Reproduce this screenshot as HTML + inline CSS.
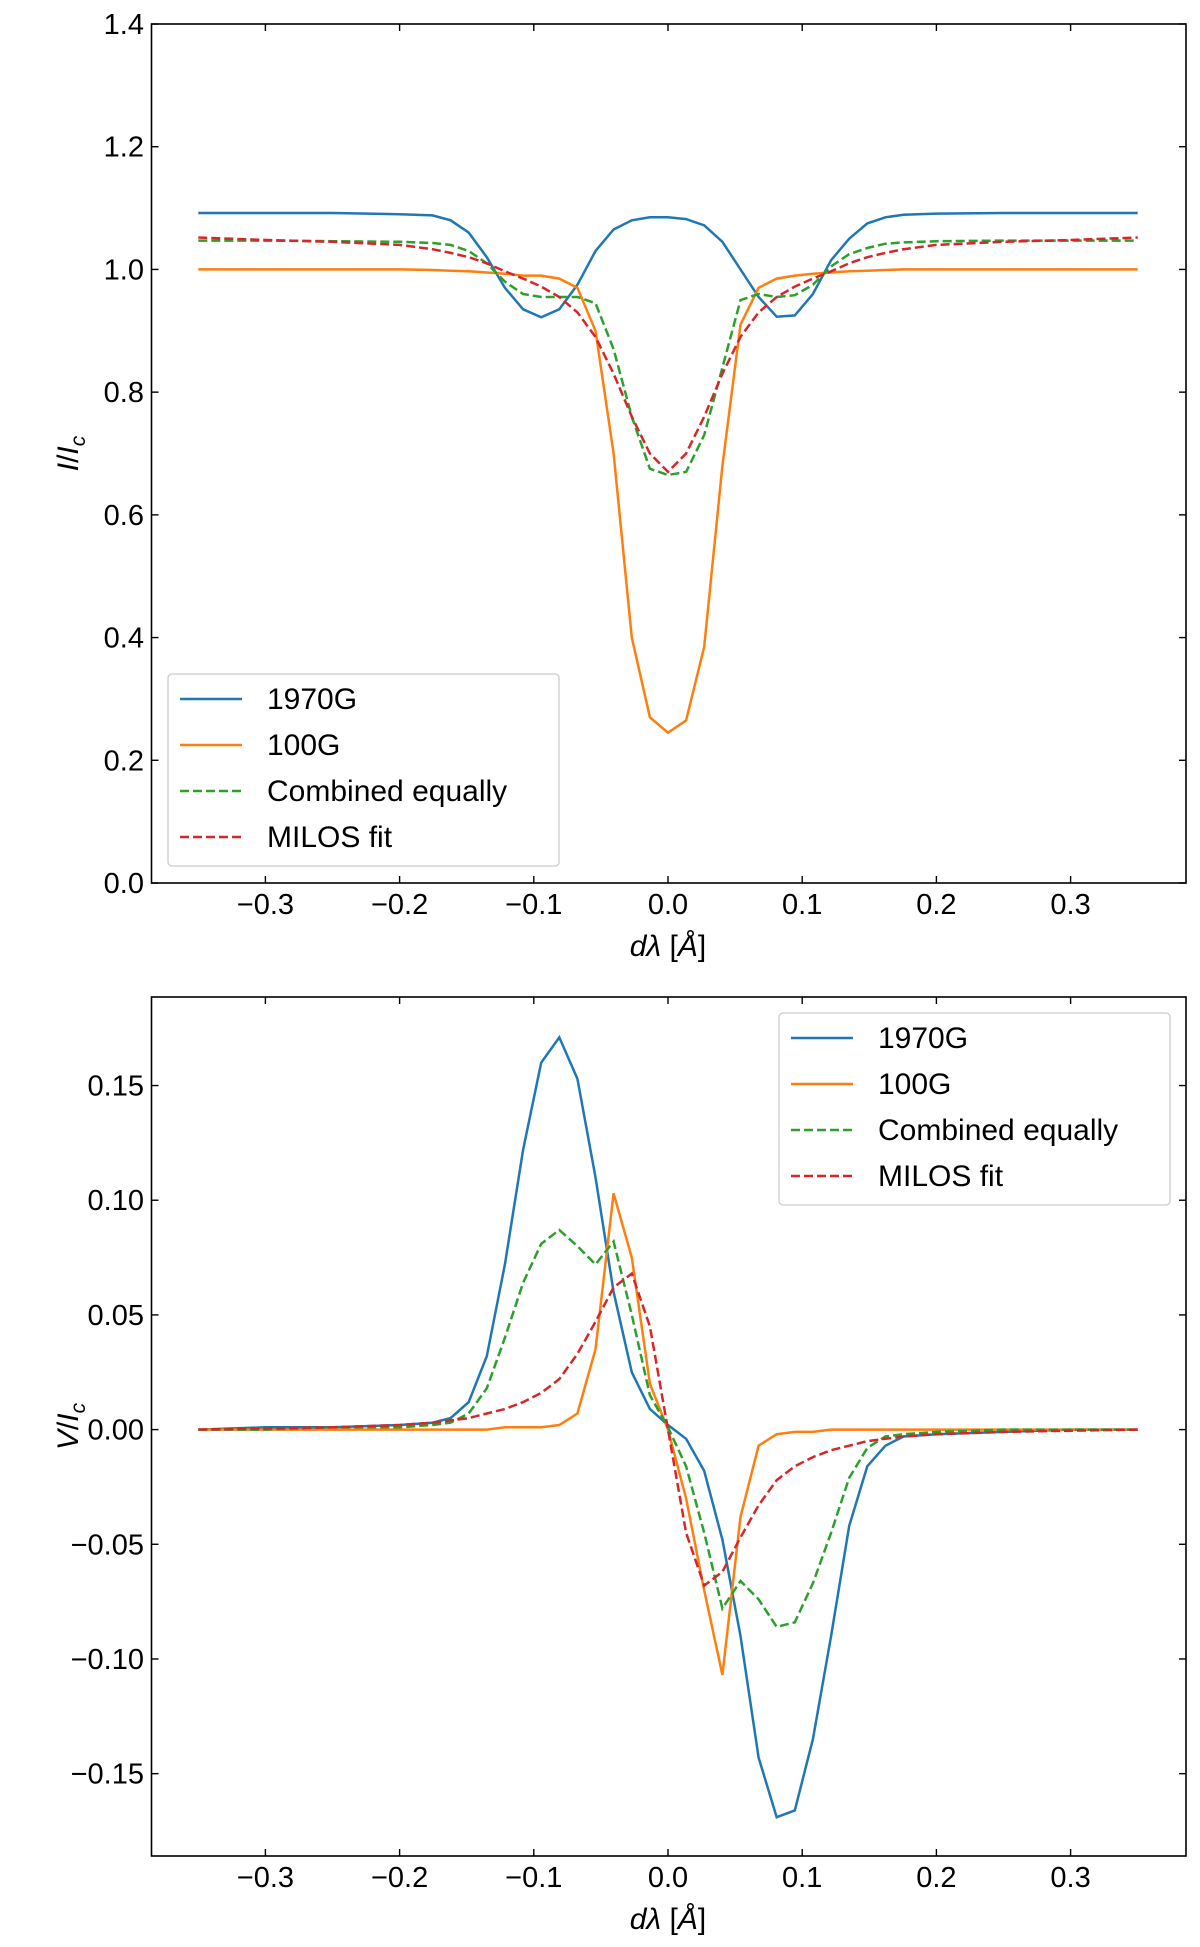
<!DOCTYPE html>
<html><head><meta charset="utf-8"><style>
body{margin:0;background:#fff}
svg{display:block;font-family:"Liberation Sans","DejaVu Sans",sans-serif}
</style></head><body>
<svg id="c" width="1200" height="1947" viewBox="0 0 1200 1947"></svg>
<script>
const xs=[-0.35,-0.3,-0.25,-0.2,-0.1755,-0.162,-0.1485,-0.135,-0.1215,-0.108,-0.0945,-0.081,-0.0675,-0.054,-0.0405,-0.027,-0.0135,0,0.0135,0.027,0.0405,0.054,0.0675,0.081,0.0945,0.108,0.1215,0.135,0.1485,0.162,0.1755,0.2,0.25,0.3,0.35];
const iBlue=[1.092,1.092,1.092,1.09,1.088,1.08,1.06,1.02,0.97,0.935,0.922,0.935,0.975,1.03,1.065,1.08,1.085,1.085,1.082,1.072,1.045,1.0,0.955,0.923,0.925,0.96,1.015,1.05,1.075,1.085,1.089,1.091,1.092,1.092,1.092];
const iOrange=[1.0,1.0,1.0,1.0,0.999,0.998,0.997,0.995,0.993,0.99,0.99,0.985,0.97,0.9,0.70,0.40,0.27,0.245,0.265,0.385,0.68,0.91,0.97,0.985,0.99,0.993,0.995,0.997,0.998,0.999,1.0,1.0,1.0,1.0,1.0];
const iGreen=[1.047,1.047,1.046,1.045,1.043,1.04,1.03,1.01,0.98,0.96,0.955,0.955,0.955,0.945,0.87,0.76,0.675,0.665,0.67,0.73,0.84,0.95,0.96,0.955,0.958,0.975,1.005,1.025,1.035,1.042,1.044,1.046,1.047,1.047,1.047];
const iRed=[1.052,1.048,1.045,1.04,1.033,1.027,1.02,1.01,0.997,0.985,0.972,0.955,0.93,0.89,0.83,0.76,0.70,0.67,0.70,0.76,0.83,0.89,0.93,0.955,0.972,0.985,0.997,1.01,1.02,1.027,1.033,1.04,1.045,1.048,1.052];
const vBlue=[0,0.001,0.001,0.002,0.003,0.005,0.012,0.032,0.072,0.122,0.16,0.171,0.153,0.11,0.06,0.025,0.009,0.002,-0.004,-0.018,-0.048,-0.09,-0.143,-0.169,-0.166,-0.135,-0.09,-0.042,-0.016,-0.007,-0.003,-0.002,-0.001,0,0];
const vOrange=[0,0,0,0,0,0,0,0,0.001,0.001,0.001,0.002,0.007,0.035,0.103,0.075,0.02,0,-0.03,-0.07,-0.107,-0.038,-0.007,-0.002,-0.001,-0.001,0,0,0,0,0,0,0,0,0];
const vGreen=[0,0,0.001,0.001,0.002,0.003,0.007,0.018,0.04,0.064,0.081,0.087,0.08,0.072,0.082,0.05,0.015,0.001,-0.016,-0.045,-0.078,-0.066,-0.074,-0.086,-0.084,-0.067,-0.045,-0.021,-0.008,-0.003,-0.002,-0.001,0,0,0];
const vRed=[0,0.0005,0.001,0.002,0.003,0.004,0.005,0.007,0.009,0.012,0.016,0.022,0.033,0.047,0.062,0.068,0.045,0,-0.045,-0.068,-0.062,-0.047,-0.033,-0.022,-0.016,-0.012,-0.009,-0.007,-0.005,-0.004,-0.003,-0.002,-0.001,-0.0005,0];
const xTicks=[-0.3,-0.2,-0.1,0,0.1,0.2,0.3];
const xTickLabels=["\u22120.3","\u22120.2","\u22120.1","0.0","0.1","0.2","0.3"];
const iTicks=[0,0.2,0.4,0.6,0.8,1.0,1.2,1.4];
const iTickLabels=["0.0","0.2","0.4","0.6","0.8","1.0","1.2","1.4"];
const vTicks=[-0.15,-0.1,-0.05,0,0.05,0.1,0.15];
const vTickLabels=["\u22120.15","\u22120.10","\u22120.05","0.00","0.05","0.10","0.15"];
const names=["1970G","100G","Combined equally","MILOS fit"];
const cols=["#1f77b4","#ff7f0e","#2ca02c","#d62728"];
const dashed=[false,false,true,true];

const svg=document.getElementById('c');
const NS='http://www.w3.org/2000/svg';
function mk(tag,attrs,parent){const e=document.createElementNS(NS,tag);for(const k in attrs)e.setAttribute(k,attrs[k]);(parent||svg).appendChild(e);return e;}
const L=151.5,R=1186;
const xs2px=x=>668+(x)*1342;

function panel(name,top,bot,ymin,ymax,series,yt,ytl,ylab,leg){
  const g=mk('g',{});
  
  
  const yp=v=>bot-(v-ymin)/(ymax-ymin)*(bot-top);
  series.forEach((s,i)=>{
    const d=xs.map((x,j)=>(j?'L':'M')+xs2px(x).toFixed(1)+','+yp(s[j]).toFixed(1)).join(' ');
    const p=mk('path',{d:d,fill:'none',stroke:cols[i],'stroke-width':2.5,'stroke-dasharray':dashed[i]?'9,4':'none'},g);
    
    
  });
  const fr=mk('rect',{x:L,y:top,width:R-L,height:bot-top,fill:'none',stroke:'#000','stroke-width':1.6},g);
  
  
  xTicks.forEach((t,i)=>{
    const x=xs2px(t);
    mk('line',{x1:x,x2:x,y1:bot,y2:bot-7,stroke:'#000','stroke-width':1.4},g);
    mk('line',{x1:x,x2:x,y1:top,y2:top+7,stroke:'#000','stroke-width':1.4},g);
    const tx=mk('text',{x:x,y:bot+31,'font-size':29,'text-anchor':'middle'},g);
    tx.textContent=xTickLabels[i];
    
    
  });
  yt.forEach((t,i)=>{
    const y=yp(t);
    mk('line',{x1:L,x2:L+7,y1:y,y2:y,stroke:'#000','stroke-width':1.4},g);
    mk('line',{x1:R,x2:R-7,y1:y,y2:y,stroke:'#000','stroke-width':1.4},g);
    const tx=mk('text',{x:144,y:y+10,'font-size':29,'text-anchor':'end'},g);
    tx.textContent=ytl[i];
    
    
  });
  const xl=mk('text',{x:668,y:bot+73,'font-size':30,'text-anchor':'middle'},g);
  xl.innerHTML='<tspan font-style="italic">d\u03bb</tspan> [<tspan font-style="italic">\u00c5</tspan>]';
  
  
  const yc=(top+bot)/2;
  const yl=mk('text',{x:0,y:0,'font-size':30,'text-anchor':'middle',transform:'translate(78,'+yc+') rotate(-90)'},g);
  yl.innerHTML='<tspan font-style="italic">'+ylab+'</tspan>/<tspan font-style="italic">I</tspan><tspan font-style="italic" font-size="21" dy="7">c</tspan>';
  
  
  const lg=mk('g',{},g);
  
  
  mk('rect',{x:leg.x,y:leg.y,width:leg.w,height:leg.h,rx:4,fill:'#fff','fill-opacity':0.8,stroke:'#ccc','stroke-width':1.3},lg);
  names.forEach((n,i)=>{
    const y=leg.y+25+i*46;
    mk('line',{x1:leg.x+12,x2:leg.x+74,y1:y,y2:y,stroke:cols[i],'stroke-width':2.5,'stroke-dasharray':dashed[i]?'9,4':'none'},lg);
    const t=mk('text',{x:leg.x+99,y:y+10,'font-size':30},lg);
    t.textContent=n;
    
    
  });
}
panel('intensity-panel',24,883,0,1.4,[iBlue,iOrange,iGreen,iRed],iTicks,iTickLabels,'I',{x:168,y:674,w:391,h:192});
panel('stokes-v-panel',997,1856,-0.1859,0.1886,[vBlue,vOrange,vGreen,vRed],vTicks,vTickLabels,'V',{x:779,y:1013,w:391,h:192});
</script>
</body></html>
